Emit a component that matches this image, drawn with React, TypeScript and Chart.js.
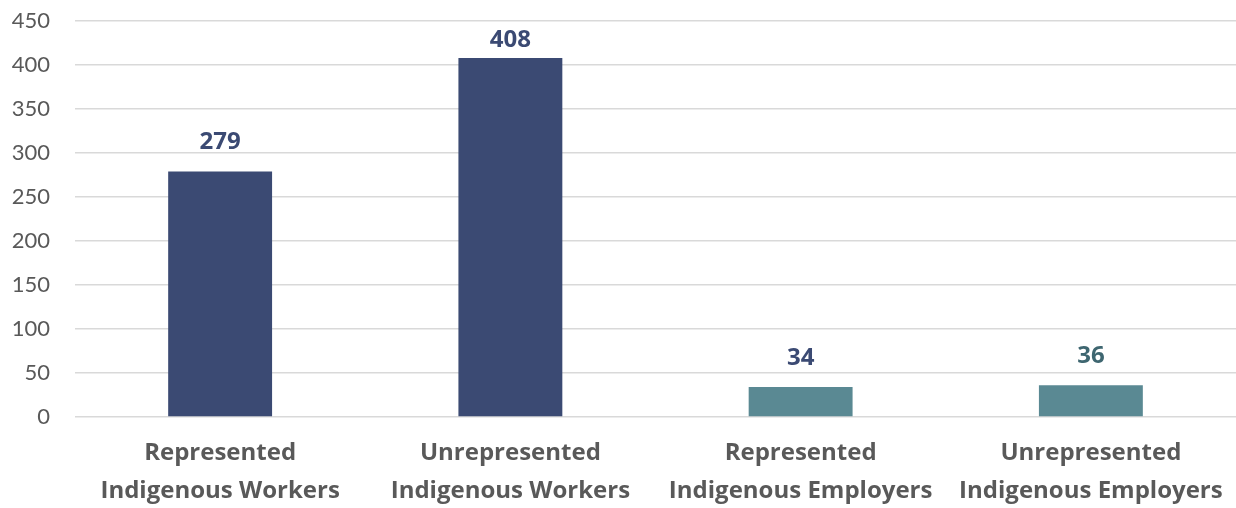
import React, { useEffect, useRef } from "react";
import { Chart, registerables } from "chart.js";

Chart.register(...registerables);

const categories: string[][] = [
  ["Represented", "Indigenous Workers"],
  ["Unrepresented", "Indigenous Workers"],
  ["Represented", "Indigenous Employers"],
  ["Unrepresented", "Indigenous Employers"],
];
const values: number[] = [279, 408, 34, 36];
const barColors: string[] = ["#3B4A73", "#3B4A73", "#5A8993", "#5A8993"];
const labelColors: string[] = ["#3B4A73", "#3B4A73", "#3B4A73", "#3E6670"];
const yTicks: number[] = [0, 50, 100, 150, 200, 250, 300, 350, 400, 450];

const BOLD_FONT = "'Open Sans', Lato, sans-serif";
const FONT = "Lato, 'Open Sans', sans-serif";

const valueLabels = {
  id: "valueLabels",
  afterDatasetsDraw(chart: any) {
    const ctx = chart.ctx;
    const meta = chart.getDatasetMeta(0);
    const minBaseline = chart.chartArea.top + 26;
    ctx.save();
    ctx.font = `bold 24px ${BOLD_FONT}`;
    ctx.textAlign = "center";
    ctx.textBaseline = "alphabetic";
    meta.data.forEach((el: any, i: number) => {
      ctx.fillStyle = labelColors[i];
      const y = Math.max(el.y - 22, minBaseline);
      ctx.fillText(String(values[i]), el.x, y);
    });
    ctx.restore();
  },
};

export default function App() {
  const ref = useRef<HTMLCanvasElement>(null);
  useEffect(() => {
    if (!ref.current) return;
    const chart = new Chart(ref.current, {
      type: "bar",
      data: {
        labels: categories,
        datasets: [
          {
            data: values,
            backgroundColor: barColors,
            categoryPercentage: 1,
            barPercentage: 0.358,
          },
        ],
      },
      options: {
        animation: false,
        responsive: false,
        maintainAspectRatio: false,
        layout: { padding: { top: 21, right: 0, left: 0, bottom: 0 } },
        plugins: { legend: { display: false }, tooltip: { enabled: false } },
        scales: {
          x: {
            grid: { display: false, drawTicks: false },
            border: { display: false },
            ticks: {
              color: "#595959",
              font: { family: BOLD_FONT, size: 24, weight: "bold", lineHeight: 1.58 },
              padding: 17,
              maxRotation: 0,
              autoSkip: false,
            },
            afterFit: (s: any) => {
              s.height = 91;
              s.paddingLeft = 0;
              s.paddingRight = 0;
            },
          },
          y: {
            min: 0,
            max: 450,
            afterBuildTicks: (s: any) => {
              s.ticks = yTicks.map((v) => ({ value: v }));
            },
            grid: { color: "#D9D9D9", lineWidth: 1.5, drawTicks: false },
            border: { display: false },
            ticks: {
              color: "#595959",
              font: { family: FONT, size: 22 },
              padding: 25,
            },
            afterFit: (s: any) => {
              s.width = 75;
              s.paddingTop = 0;
              s.paddingBottom = 0;
            },
          },
        },
      },
      plugins: [valueLabels],
    });
    return () => chart.destroy();
  }, []);
  return (
    <div style={{ position: "fixed", left: 0, top: 0, width: 1236, height: 508, background: "#fff" }}>
      <canvas ref={ref} width={1236} height={508} style={{ width: 1236, height: 508, display: "block" }} />
    </div>
  );
}
